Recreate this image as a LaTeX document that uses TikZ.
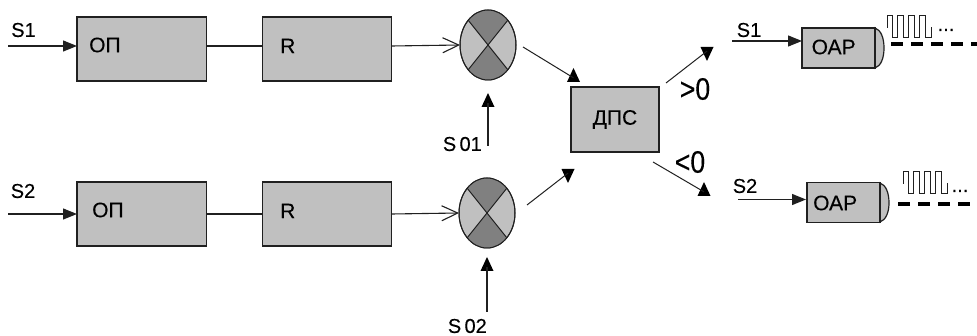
\documentclass[tikz,border=0pt]{standalone}
\usepackage{fontspec}
\setmainfont[FakeBold=0.25]{Liberation Sans}
\usetikzlibrary{arrows.meta,shapes.geometric}
\definecolor{lg}{HTML}{C0C0C0}
\definecolor{dg}{HTML}{808080}
\definecolor{ln}{HTML}{202020}
\tikzset{
  blockbox/.style={draw=ln,fill=lg,line width=1.3pt,minimum width=129.5pt,minimum height=64pt,inner sep=0,outer sep=0},
  smallbox/.style={draw=ln,fill=lg,line width=1.3pt,minimum width=73pt,minimum height=40pt,inner sep=0,outer sep=0},
  dps/.style={draw=ln,fill=lg,line width=1.3pt,minimum width=88pt,minimum height=65pt,inner sep=0,outer sep=0,font=\fontsize{21}{21}\selectfont},
  mixer/.style={ellipse,draw=ln,line width=1pt,fill=lg,minimum width=56pt,minimum height=70pt,inner sep=0,outer sep=0},
  tip/.style={isosceles triangle,isosceles triangle apex angle=50,isosceles triangle stretches,fill=black,inner sep=0,outer sep=0,minimum height=14pt,minimum width=13pt,anchor=apex},
  lab/.style={inner sep=0,font=\fontsize{21}{21}\selectfont},
  slab/.style={inner sep=0,font=\fontsize{20}{20}\selectfont},
  sign/.style={inner sep=0,font=\fontsize{31}{31}\selectfont,xscale=.86,transform shape},
  wire/.style={draw=ln,line width=1.2pt},
  filledarrow/.style={wire,-{Triangle[length=14pt,width=11pt]}},
  openarrow/.style={draw=ln,line width=1.1pt,-{Straight Barb[length=16pt,width=15pt]}},
  thinwire/.style={draw=ln,line width=1pt},
  pulse/.style={draw=ln,line width=1pt},
  dashline/.style={draw=black,line width=3.5pt,dash pattern=on 11.5pt off 8.5pt},
}
\newcommand{\mixerparts}[1]{
  \begin{scope}
    \clip (#1.center) ellipse [x radius=28pt,y radius=-35pt];
    \fill[dg] (#1.center) -- ++(-40,-49.5) -- ++(80,0) -- cycle;
    \fill[dg] (#1.center) -- ++(-40,49.5) -- ++(80,0) -- cycle;
  \end{scope}
  \draw[ln,line width=1pt] (#1.center) ellipse [x radius=28pt,y radius=-35pt];
  \draw[ln,line width=1pt] (#1.north west) -- (#1.south east) (#1.north east) -- (#1.south west);
}
\begin{document}
\begin{tikzpicture}[x=1pt,y=-1pt]
\useasboundingbox (0,0) rectangle (977,336);

% left blocks
\node[blockbox] (op1) at (141.75,49) {};
\node[blockbox] (r1) at (327,49) {};
\node[blockbox] (op2) at (141.75,214) {};
\node[blockbox] (r2) at (327,214) {};
\node[lab,anchor=west] (op1t) at (89,45) {ОП};
\node[lab,anchor=west] (r1t) at (280,46) {R};
\node[lab,anchor=west] (op2t) at (92,210) {ОП};
\node[lab,anchor=west] (r2t) at (280,211) {R};

% mixers
\node[mixer] (m1) at (488,45) {};
\node[mixer] (m2) at (487,213) {};
\mixerparts{m1}
\mixerparts{m2}

% decision block
\node[dps] (d) at (615,119.5) {\raisebox{2pt}{ДПС}};

% output blocks
\draw[ln,fill=lg,line width=1.2pt] (875,28) .. controls (881,30) and (884,38) .. (884,48) .. controls (884,58) and (881,66) .. (875,68) -- cycle;
\draw[ln,fill=lg,line width=1.2pt] (880,183) .. controls (886,185) and (889,193) .. (889,203) .. controls (889,212) and (886,220) .. (880,222) -- cycle;
\node[smallbox] (o1) at (838.5,48) {};
\node[smallbox] (o2) at (843.5,202.5) {};
\node[lab,anchor=west] (o1t) at (811.5,47) {ОАР};
\node[lab,anchor=west] (o2t) at (813,203) {ОАР};

% free ends
\coordinate (in1) at (8,46);
\coordinate (in2) at (8,214);
\coordinate (in3) at (732,41);
\coordinate (in4) at (738,199.5);
\coordinate (hit1) at (77,46);
\coordinate (hit2) at (77,214);
\coordinate (hit3) at (802,41);
\coordinate (hit4) at (806,199.5);
\coordinate (a1s) at (523,47);
\coordinate (a2s) at (527,205);
\coordinate (b1s) at (666,83);
\coordinate (b2s) at (653,162);
\coordinate (s1s) at (488,146);
\coordinate (s2s) at (487,312);

% connectors
\draw[wire] (op1.east |- 0,46) -- (r1.west |- 0,46);
\draw[wire] (op2.east |- 0,214) -- (r2.west |- 0,214);
\draw[openarrow] (r1.east |- 0,46) -- (m1.west);
\draw[openarrow] (r2.east |- 0,214) -- (m2.west);
\draw[filledarrow] (in1) -- (hit1);
\draw[filledarrow] (in2) -- (hit2);
\draw[filledarrow] (in3) -- (hit3);
\draw[filledarrow] (in4) -- (hit4);

% triangular tips
\node[tip,shape border rotate=90] (t1) at (573.5,68) {};
\node[tip,shape border rotate=270] (t2) at (568,183) {};
\node[tip,shape border rotate=270] (t3) at (707,61) {};
\node[tip,shape border rotate=90] (t4) at (704,182) {};
\node[tip,shape border rotate=90] (t5) at (488,93) {};
\node[tip,shape border rotate=90] (t6) at (487,257) {};
\draw[thinwire] (a1s) -- (t1.center);
\draw[thinwire] (a2s) -- (t2.center);
\draw[thinwire] (b1s) -- (t3.center);
\draw[thinwire] (b2s) -- (t4.center);
\draw[wire] (s1s) -- (t5.center);
\draw[wire] (s2s) -- (t6.center);

% labels
\node[slab] (ls1) at (23.5,30) {S1};
\node[slab] (ls2) at (23,191) {S2};
\node[slab] (ls3) at (749,30) {S1};
\node[slab] (ls4) at (745,186) {S2};
\node[slab,anchor=east] (ls01) at (482,144) {S\,01};
\node[slab,anchor=east] (ls02) at (487,326) {S\,02};
\node[sign] (gt) at (695,89) {>0};
\node[sign] (lt) at (690,162) {<0};

% pulses
\coordinate (p1) at (887,28);
\coordinate (p2) at (903,184);
\foreach \s in {p1,p2}{
  \draw[pulse] (\s) -- ++(0,-12) -- ++(5.5,0) -- ++(0,22) -- ++(5,0) -- ++(0,-22) -- ++(6,0) -- ++(0,22) -- ++(5,0) -- ++(0,-22) -- ++(6,0) -- ++(0,22) -- ++(5,0) -- ++(0,-22) -- ++(6,0) -- ++(0,22) -- ++(5.5,0) -- ++(0,-11);
}
\node[slab,anchor=base] (dots1) at (946,31) {...};
\node[slab,anchor=base] (dots2) at (960,192) {...};

% dashed lines
\coordinate (e1a) at (891,44);
\coordinate (e1b) at (977,44);
\coordinate (e2a) at (898,204);
\coordinate (e2b) at (971,204);
\draw[dashline] (e1a) -- (e1b);
\draw[dashline] (e2a) -- (e2b);
\end{tikzpicture}
\end{document}
